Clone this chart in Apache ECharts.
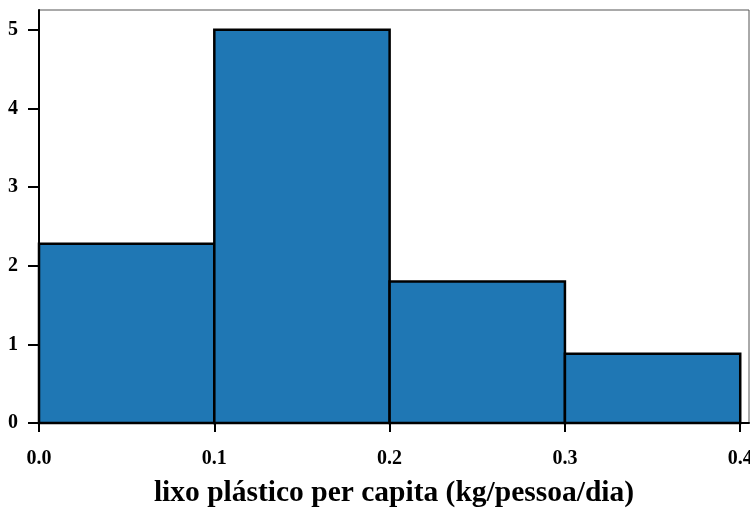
<!DOCTYPE html>
<html><head><meta charset="utf-8">
<script src="https://cdn.jsdelivr.net/npm/echarts@6/dist/echarts.min.js"></script>
<style>html,body{margin:0;padding:0;background:#fff}#c{width:750px;height:509px}</style>
</head><body><div id="c"></div>
<script>
const binStarts = [0.0, 0.1, 0.2, 0.3];
const binEnds = [0.1, 0.2, 0.3, 0.4];
const heights = [2.28, 5.0, 1.8, 0.88];
const xTicks = [0.0, 0.1, 0.2, 0.3, 0.4];
const yTicks = [0, 1, 2, 3, 4, 5];
const xTitle = 'lixo plástico per capita (kg/pessoa/dia)';

const data = binStarts.map((s, i) => [s, binEnds[i], heights[i]]);
const chart = echarts.init(document.getElementById('c'), null, {renderer: 'canvas'});
const font = '"Liberation Serif", "DejaVu Serif", serif';
chart.setOption({
  animation: false,
  grid: {left: 39, right: 1, top: 10, bottom: 86, show: true, borderColor: '#555', borderWidth: 1,
    outerBoundsMode: 'none', containLabel: false},
  xAxis: {
    type: 'value', min: 0, max: 0.405, interval: 0.1,
    name: xTitle, nameLocation: 'middle', nameGap: 55, nameMoveOverlap: false,
    nameTextStyle: {fontFamily: font, fontWeight: 'bold', fontSize: 29.5, color: '#000'},
    axisLine: {show: true, lineStyle: {color: '#000', width: 2}},
    axisTick: {show: true, length: 9, lineStyle: {color: '#000', width: 2}, customValues: xTicks},
    axisLabel: {fontFamily: font, fontWeight: 'bold', fontSize: 20, color: '#000', margin: 26,
      customValues: xTicks, formatter: v => v.toFixed(1), hideOverlap: false},
    splitLine: {show: false}
  },
  yAxis: {
    type: 'value', min: 0, max: 5.25, interval: 1,
    axisLine: {show: true, lineStyle: {color: '#000', width: 2}},
    axisTick: {show: true, length: 11, lineStyle: {color: '#000', width: 2}, customValues: yTicks},
    axisLabel: {fontFamily: font, fontWeight: 'bold', fontSize: 20, color: '#000', margin: 21,
      customValues: yTicks},
    splitLine: {show: false}
  },
  series: [{
    type: 'custom',
    data: data,
    renderItem: function (params, api) {
      const p0 = api.coord([api.value(0), api.value(2)]);
      const p1 = api.coord([api.value(1), 0]);
      return {
        type: 'rect',
        shape: {x: p0[0], y: p0[1], width: p1[0] - p0[0], height: p1[1] - p0[1]},
        style: {fill: '#1f77b4', stroke: '#000', lineWidth: 2.5}
      };
    }
  }]
});
</script></body></html>
